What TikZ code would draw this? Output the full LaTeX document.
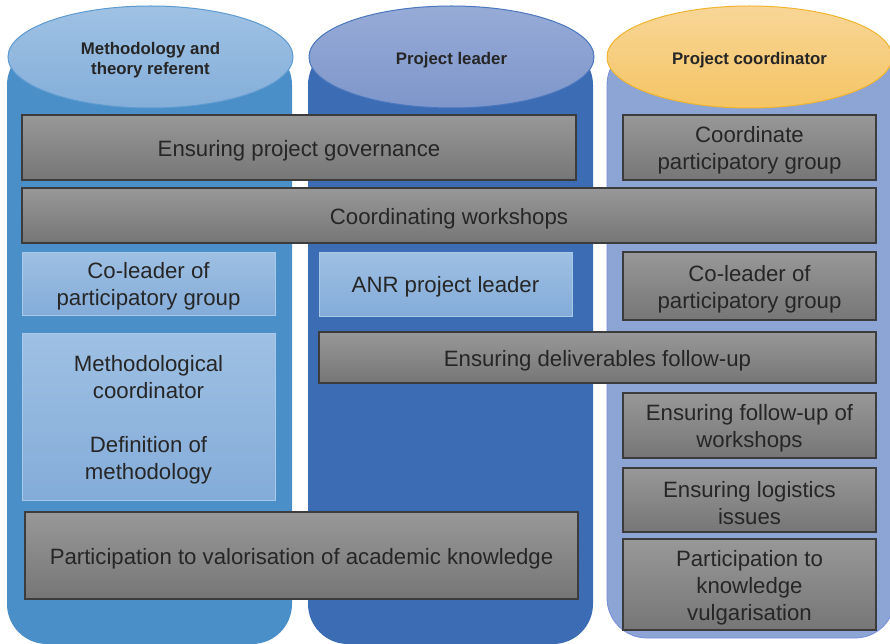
\documentclass[tikz,border=0pt]{standalone}
\usepackage{fontspec}
\setmainfont{Liberation Sans}
\definecolor{bodyA}{HTML}{4A8FC8}
\definecolor{bodyB}{HTML}{3B6CB4}
\definecolor{bodyC}{HTML}{8DA5D5}
\definecolor{ellAtop}{HTML}{9FC2E4}
\definecolor{ellAbot}{HTML}{84AED9}
\definecolor{ellAdraw}{HTML}{5E9BD0}
\definecolor{ellBtop}{HTML}{97ABD7}
\definecolor{ellBbot}{HTML}{7E96CA}
\definecolor{ellBdraw}{HTML}{4A77BE}
\definecolor{ellCtop}{HTML}{F8D697}
\definecolor{ellCbot}{HTML}{F5C565}
\definecolor{ellCdraw}{HTML}{F0B530}
\definecolor{graytop}{HTML}{989898}
\definecolor{graybot}{HTML}{767676}
\definecolor{grayline}{HTML}{3C3C3C}
\definecolor{lbtop}{HTML}{9EC0E3}
\definecolor{lbbot}{HTML}{84ACD9}
\definecolor{lbline}{HTML}{A9C9E9}
\definecolor{txt}{HTML}{262626}
\usetikzlibrary{shapes.geometric}
\tikzset{
  graybox/.style={rectangle, top color=graytop, bottom color=graybot, draw=grayline, line width=1.1pt, inner sep=0pt},
  lbbox/.style={rectangle, top color=lbtop, bottom color=lbbot, draw=lbline, line width=0.8pt, inner sep=0pt},
  boxtext/.style={align=center, text=txt, inner sep=0pt, font=\fontsize{22.2}{27}\selectfont},
  headell/.style={ellipse, minimum width=285pt, minimum height=102pt, line width=1pt, inner sep=0pt},
  headtext/.style={align=center, text=txt, inner sep=0pt, font=\bfseries\fontsize{16.8}{20.5}\selectfont}
}
\begin{document}
\begin{tikzpicture}[x=1pt,y=-1pt]
\useasboundingbox (0,0) rectangle (890,644);
\fill[white] (0,0) rectangle (890,644);
% column bodies
\fill[bodyA, rounded corners=40pt] (7,45) rectangle (292,644);
\fill[bodyB, rounded corners=40pt] (308,45) rectangle (593,644);
\filldraw[fill=bodyC, draw=bodyC!85!blue, line width=0.8pt, rounded corners=40pt] (607,45) rectangle (895,638);
% headers
\node[headell, top color=ellAtop, bottom color=ellAbot, draw=ellAdraw] (hA) at (150.5,57) {};
\node[headell, top color=ellBtop, bottom color=ellBbot, draw=ellBdraw] (hB) at (451.5,57) {};
\node[headell, top color=ellCtop, bottom color=ellCbot, draw=ellCdraw] (hC) at (749.5,57) {};
\node[headtext] (hAt) at ([yshift=-3pt]hA.center) {Methodology and\\theory referent};
\node[headtext] (hBt) at ([yshift=-3pt]hB.center) {Project leader};
\node[headtext] (hCt) at ([yshift=-3pt]hC.center) {Project coordinator};
% boxes
\node[graybox, minimum width=554pt, minimum height=65pt] (gov) at (299,147.5) {};
\node[graybox, minimum width=253pt, minimum height=65pt] (coord) at (749.5,147.5) {};
\node[graybox, minimum width=854pt, minimum height=55pt] (work) at (449,215.5) {};
\node[lbbox, minimum width=253pt, minimum height=63pt] (clA) at (148.5,283.5) {};
\node[lbbox, minimum width=253pt, minimum height=64pt] (anr) at (445.5,284) {};
\node[graybox, minimum width=253pt, minimum height=68pt] (clC) at (749.5,286) {};
\node[graybox, minimum width=557pt, minimum height=51pt] (deliv) at (597.5,357.5) {};
\node[lbbox, minimum width=253pt, minimum height=167pt] (meth) at (148.5,416.5) {};
\node[graybox, minimum width=253pt, minimum height=65pt] (fu) at (749.5,425.5) {};
\node[graybox, minimum width=253pt, minimum height=64pt] (logi) at (749.5,500) {};
\node[graybox, minimum width=253pt, minimum height=91pt] (vulg) at (749.5,584.5) {};
\node[graybox, minimum width=553pt, minimum height=87pt] (val) at (301.5,555.5) {};
% texts
\node[boxtext] (govt) at ([yshift=-3pt]gov.center) {Ensuring project governance};
\node[boxtext] (coordt) at ([yshift=-3pt]coord.center) {Coordinate\\participatory group};
\node[boxtext] (workt) at ([yshift=-3pt]work.center) {Coordinating workshops};
\node[boxtext] (clAt) at ([yshift=-3pt]clA.center) {Co-leader of\\participatory group};
\node[boxtext] (anrt) at ([yshift=-3pt]anr.center) {ANR project leader};
\node[boxtext] (clCt) at ([yshift=-3pt]clC.center) {Co-leader of\\participatory group};
\node[boxtext] (delivt) at ([yshift=-3pt]deliv.center) {Ensuring deliverables follow-up};
\node[boxtext] (metht) at ([yshift=-3pt]meth.center) {Methodological\\coordinator\\[27pt]Definition of\\methodology};
\node[boxtext] (fut) at ([yshift=-3pt]fu.center) {Ensuring follow-up of\\workshops};
\node[boxtext] (logit) at ([yshift=-3pt]logi.center) {Ensuring logistics\\issues};
\node[boxtext] (vulgt) at ([yshift=-3pt]vulg.center) {Participation to\\knowledge\\vulgarisation};
\node[boxtext] (valt) at ([yshift=-3pt]val.center) {Participation to valorisation of academic knowledge};
\end{tikzpicture}
\end{document}
